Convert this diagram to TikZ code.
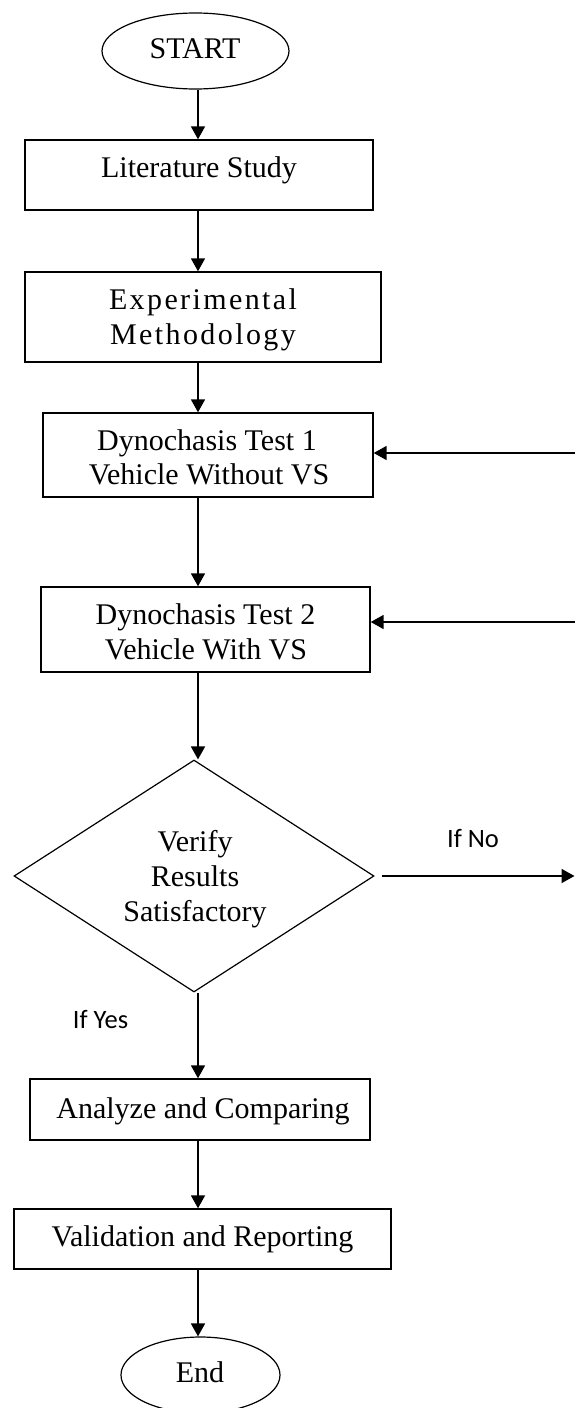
\documentclass[tikz,border=0pt]{standalone}
\usepackage{fontspec}
\setmainfont{Liberation Serif}
\newfontfamily\calibri{Carlito}
\usetikzlibrary{arrows.meta,shapes.geometric}
\begin{document}
\begin{tikzpicture}[x=1pt,y=-1pt,
  box/.style={draw, line width=1.4pt, rectangle, inner sep=0pt},
  oval/.style={draw, line width=1.2pt, ellipse, inner sep=0pt},
  decision/.style={draw, line width=1.2pt, diamond, inner sep=0pt},
  txt/.style={anchor=base, inner sep=0pt, font=\fontsize{30}{35}\selectfont},
  spaced/.style={anchor=base, inner sep=0pt, font=\fontsize{30}{35}\selectfont\addfontfeature{LetterSpace=8}},
  lbl/.style={anchor=base, inner sep=0pt, font=\calibri\fontsize{26.5}{30}\selectfont},
  arr/.style={line width=1.8pt, -{Triangle[width=14pt,length=13pt]}},
]
\useasboundingbox (0,0) rectangle (575,1408);
\fill[white] (0,0) rectangle (575,1408);
\coordinate (ax) at (198,0);

% shapes
\node[oval, minimum width=187pt, minimum height=76pt] (start) at (195.5,51) {};
\node[box, minimum width=348pt, minimum height=70pt] (lit) at (199,175) {};
\node[box, minimum width=356pt, minimum height=90pt] (exp) at (203,317) {};
\node[box, minimum width=330pt, minimum height=84pt] (t1) at (208,455) {};
\node[box, minimum width=329pt, minimum height=85pt] (t2) at (205.5,629.5) {};
\node[decision, minimum width=360pt, minimum height=232pt] (dia) at (194,876) {};
\node[box, minimum width=340pt, minimum height=61pt] (ana) at (200,1109.5) {};
\node[box, minimum width=377pt, minimum height=60pt] (val) at (202.5,1239) {};
\node[oval, minimum width=159pt, minimum height=76pt] (end) at (200.5,1375) {};

% texts
\node[txt] (startT) at (195,58) {START};
\node[txt] (litT) at (199,177) {Literature Study};
\node[spaced] (expTa) at (203,309) {Experimental};
\node[spaced] (expTb) at (203,344) {Methodology};
\node[txt] (t1a) at (207,450) {Dynochasis Test 1};
\node[txt] (t1b) at (209,484) {Vehicle Without VS};
\node[txt] (t2a) at (205.5,624) {Dynochasis Test 2};
\node[txt] (t2b) at (206,659) {Vehicle With VS};
\node[txt] (diaA) at (195,851) {Verify};
\node[txt] (diaB) at (195,886) {Results};
\node[txt] (diaC) at (195,921) {Satisfactory};
\node[txt] (anaT) at (203,1118) {Analyze and Comparing};
\node[txt] (valT) at (202.5,1246) {Validation and Reporting};
\node[txt] (endT) at (200,1382) {End};
\node[lbl] (yes) at (100.5,1028) {If Yes};
\node[lbl] (no) at (473,847) {If No};

% connectors
\coordinate (r1) at (575,453);
\coordinate (r2) at (575,622);
\coordinate (rn) at (574.5,876);
\draw[arr] (start.south -| ax) -- (lit.north -| ax);
\draw[arr] (lit.south -| ax) -- (exp.north -| ax);
\draw[arr] (exp.south -| ax) -- (t1.north -| ax);
\draw[arr] (t1.south -| ax) -- (t2.north -| ax);
\draw[arr] (t2.south -| ax) -- (dia.north -| ax);
\draw[arr] (dia.south -| ax) -- (ana.north -| ax);
\draw[arr] (ana.south -| ax) -- (val.north -| ax);
\draw[arr] (val.south -| ax) -- (end.north -| ax);
\draw[arr] (r1) -- (t1.east |- r1);
\draw[arr] (r2) -- (t2.east |- r2);
\draw[arr, shorten <=7pt] (dia.east) -- (rn);
\end{tikzpicture}
\end{document}
